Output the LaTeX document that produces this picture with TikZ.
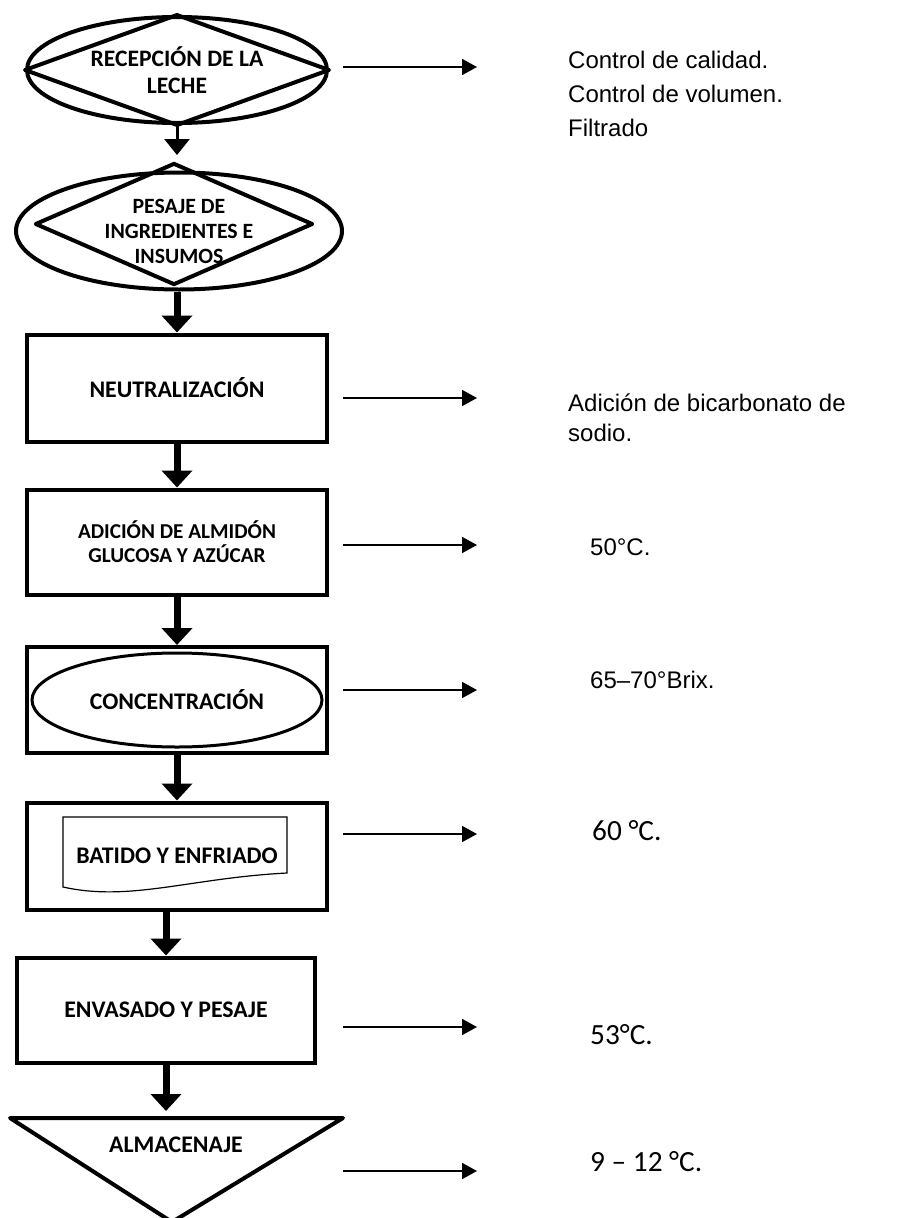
\documentclass[tikz,border=0pt]{standalone}
\usepackage{fontspec}
\setmainfont{Liberation Sans}
\newfontfamily\calibri{Carlito}
\usetikzlibrary{shapes.geometric, arrows.meta, positioning, calc}

\begin{document}
\begin{tikzpicture}[
      x=1pt, y=-1pt,
      box/.style={draw, rectangle, line width=4pt, minimum width=300pt,
                  minimum height=106pt, align=center,
                  font=\calibri\bfseries\fontsize{23.8}{27}\selectfont},
      oval/.style={draw, ellipse, line width=4pt, align=center, inner sep=0pt,
                   font=\calibri\bfseries\fontsize{23.6}{27}\selectfont},
      down/.style={-{Triangle[length=17pt, width=30pt]}, line width=7pt},
      slim/.style={-{Triangle[length=16pt, width=25pt]}, line width=3pt},
      side/.style={-{Triangle[length=15pt, width=16pt]}, line width=1.8pt},
      note/.style={anchor=west, inner sep=0pt, align=left,
                   font=\fontsize{24}{34}\selectfont},
      cnote/.style={note, font=\calibri\fontsize{29.3}{34}\selectfont}
    ]
      \useasboundingbox (0,0) rectangle (902,1218);
      % main column
      \node[oval, minimum width=300pt, minimum height=106pt] (recep) at (177,70) {RECEPCIÓN DE LA\\LECHE};
      \draw[line width=4pt, line join=round] (recep.west) -- (recep.north) -- (recep.east) -- (recep.south) -- cycle;
      \node[oval, minimum width=326pt, minimum height=117pt,
            font=\calibri\bfseries\fontsize{21.8}{25}\selectfont] (pesaje) at (179,231) {PESAJE DE\\INGREDIENTES E\\INSUMOS};
      \node[draw, diamond, line width=4pt, line join=round, minimum width=278pt, minimum height=122pt] (pesajerombo) at (174,224) {};
      \node[box, minimum height=107pt] (neutral) at (177,388) {NEUTRALIZACIÓN};
      \node[box, minimum height=105pt, font=\calibri\bfseries\fontsize{21.2}{24}\selectfont] (adicion) at (177,542) {ADICIÓN DE ALMIDÓN\\GLUCOSA Y AZÚCAR};
      \node[box] (concen) at (177,700) {CONCENTRACIÓN};
      \node[draw, ellipse, line width=3pt, minimum width=290pt, minimum height=94pt] (concenoval) at (concen.center) {};
      \node[box, minimum height=107pt] (batido) at (177,856) {BATIDO Y ENFRIADO};
      \draw[line width=1.2pt] (63,817) -- (287,817) -- (287,873) .. controls (190,878) and (130,902) .. (63,887) -- cycle;
      \node[box, minimum width=298pt, minimum height=105pt] (envasado) at (166,1010) {ENVASADO Y PESAJE};
      \draw[line width=4pt, line join=round] (10,1118) -- (343,1118) -- (172,1222) -- cycle;
      \coordinate (almtop) at (172,1118);
      \node[font=\calibri\bfseries\fontsize{23.8}{27}\selectfont] (almacen) at (176,1145) {ALMACENAJE};
      % flow arrows
      \draw[slim, shorten >=6pt] (recep.south) -- (recep.south |- pesajerombo.north);
      \draw[down] (neutral.north |- pesaje.south) -- (neutral.north);
      \draw[down] (neutral) -- (adicion);
      \draw[down] (adicion) -- (concen);
      \draw[down] (concen) -- (batido);
      \draw[down] (envasado.north |- batido.south) -- (envasado.north);
      \draw[down, shorten >=7pt] (envasado.south) -- (envasado.south |- almtop);
      % side arrows
      \path (343,67) coordinate (s1) (477,67) coordinate (e1)
            (343,398) coordinate (s2) (477,398) coordinate (e2)
            (343,545) coordinate (s3) (477,545) coordinate (e3)
            (343,690) coordinate (s4) (477,690) coordinate (e4)
            (343,834) coordinate (s5) (477,834) coordinate (e5)
            (343,1027) coordinate (s6) (477,1027) coordinate (e6)
            (343,1171) coordinate (s7) (477,1171) coordinate (e7);
      \draw[side] (s1) -- (e1);
      \draw[side] (s2) -- (e2);
      \draw[side] (s3) -- (e3);
      \draw[side] (s4) -- (e4);
      \draw[side] (s5) -- (e5);
      \draw[side] (s6) -- (e6);
      \draw[side] (s7) -- (e7);
      % notes
      \node[note] (n1) at (568,94) {Control de calidad.\\Control de volumen.\\Filtrado};
      \node[note, font=\fontsize{24}{30}\selectfont] (n2) at (568,418) {Adición de bicarbonato de\\sodio.};
      \node[note] (n3) at (590,547) {50°C.};
      \node[note] (n4) at (590,680) {65–70°Brix.};
      \node[cnote] (n5) at (592,831) {60 °C.};
      \node[cnote] (n6) at (590,1035) {53°C.};
      \node[cnote] (n7) at (590,1162) {9 – 12 °C.};
    \end{tikzpicture}
\end{document}
